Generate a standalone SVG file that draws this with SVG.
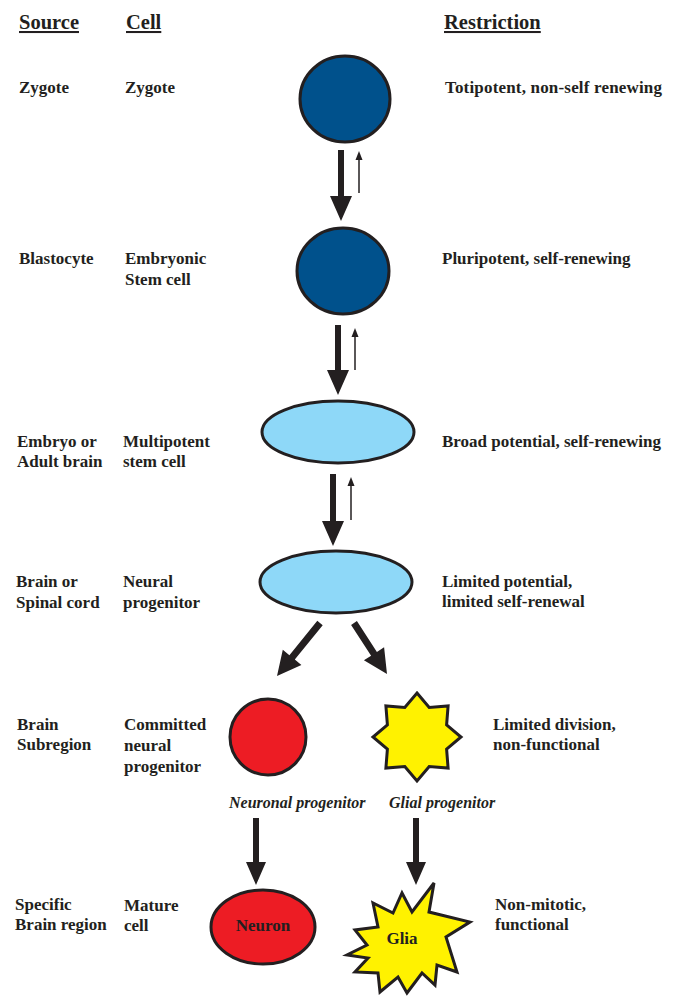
<svg xmlns="http://www.w3.org/2000/svg" width="683" height="996" viewBox="0 0 683 996">
<style>
text{font-family:"Liberation Serif","Times New Roman",serif;font-weight:bold;fill:#231F20;font-size:17px}
.hd{font-size:20.5px;text-decoration:underline}
.it{font-style:italic;font-size:16px}
.cell{stroke:#231F20;stroke-width:3}
.dark{fill:#00518C}
.light{fill:#8ED8F8}
.red{fill:#ED1C24}
.yel{fill:#FFF200}
.arr{fill:#231F20}
.thin{stroke:#231F20;stroke-width:1.5;fill:none}
</style>
<rect width="683" height="996" fill="#fff"/>
<g id="headers">
<text class="hd" x="19" y="29">Source</text>
<text class="hd" x="126" y="29">Cell</text>
<text class="hd" x="444" y="29">Restriction</text>
</g>
<g id="labels">
<text x="19" y="93">Zygote</text>
<text x="125" y="93">Zygote</text>
<text x="445" y="93" textLength="217">Totipotent, non-self renewing</text>
<text x="19" y="264">Blastocyte</text>
<text x="125" y="264">Embryonic</text>
<text x="125" y="285">Stem cell</text>
<text x="442" y="264">Pluripotent, self-renewing</text>
<text x="17" y="447">Embryo or</text>
<text x="17" y="467">Adult brain</text>
<text x="123" y="447">Multipotent</text>
<text x="123" y="467">stem cell</text>
<text x="442" y="447">Broad potential, self-renewing</text>
<text x="16" y="587">Brain or</text>
<text x="16" y="608">Spinal cord</text>
<text x="123" y="587">Neural</text>
<text x="123" y="608">progenitor</text>
<text x="442" y="587">Limited potential,</text>
<text x="442" y="607">limited self-renewal</text>
<text x="17" y="730">Brain</text>
<text x="17" y="750">Subregion</text>
<text x="124" y="730">Committed</text>
<text x="124" y="751">neural</text>
<text x="124" y="772">progenitor</text>
<text x="493" y="730">Limited division,</text>
<text x="493" y="750">non-functional</text>
<text x="15" y="910">Specific</text>
<text x="15" y="930">Brain region</text>
<text x="124" y="911">Mature</text>
<text x="124" y="931">cell</text>
<text x="495" y="910">Non-mitotic,</text>
<text x="495" y="930">functional</text>
<text class="it" x="229" y="808">Neuronal progenitor</text>
<text class="it" x="389" y="808">Glial progenitor</text>
</g>
<g id="zygote"><ellipse class="cell dark" cx="345" cy="99" rx="45" ry="43"/></g>
<g id="esc"><ellipse class="cell dark" cx="343" cy="271" rx="46" ry="43"/></g>
<g id="multipotent"><ellipse class="cell light" cx="338" cy="432" rx="76" ry="31"/></g>
<g id="neural-progenitor"><ellipse class="cell light" cx="336" cy="582" rx="76" ry="31"/></g>
<g id="committed"><circle class="cell red" cx="268" cy="737" r="38"/></g>
<g id="glial-progenitor"><polygon class="cell yel" points="417,693 429.2,707.4 448.1,705.9 446.6,724.8 461,737 446.6,749.2 448.1,768.1 429.2,766.6 417,781 404.8,766.6 385.9,768.1 387.4,749.2 373,737 387.4,724.8 385.9,705.9 404.8,707.4"/></g>
<g id="neuron"><ellipse class="cell red" cx="263" cy="927" rx="52" ry="37"/><text x="263" y="931" text-anchor="middle">Neuron</text></g>
<g id="glia"><polygon class="cell yel" points="402,893 412,912 434,883 429,912 470,922 446,937 457,972 437,965 435,985 422,973 407,993 398,977 380,992 378,973 355,972 368,958 347,955 367,945 355,930 378,927 373,903 393,913"/><text x="402" y="944" text-anchor="middle">Glia</text></g>
<g id="connectors">
<path class="arr" d="M338,150 H344 V196 H352 L341,221 L330,196 H338 Z"/>
<line class="thin" x1="359" y1="193" x2="359" y2="158"/><polygon class="arr" points="355.5,160 362.5,160 359,151"/>
<path class="arr" d="M335,325 H341 V370 H349 L338,395 L327,370 H335 Z"/>
<line class="thin" x1="355" y1="370" x2="355" y2="335"/><polygon class="arr" points="351.5,337 358.5,337 355,328"/>
<path class="arr" d="M330,474 H336 V521 H344 L333,546 L322,521 H330 Z"/>
<line class="thin" x1="351" y1="520" x2="351" y2="484"/><polygon class="arr" points="347.5,486 354.5,486 351,477"/>
<polygon class="arr" points="322.7,625.2 294.8,659.6 301.4,665 277,676 282.8,649.8 289.4,655.2 317.3,620.8"/>
<polygon class="arr" points="356.9,621.1 376.9,651.9 384.1,647.3 387,674 363.9,660.3 371.1,655.7 351.1,624.9"/>
<path class="arr" d="M253,818 H259 V862 H266 L256,885 L246,862 H253 Z"/>
<path class="arr" d="M413,818 H419 V862 H426 L416,885 L406,862 H413 Z"/>
</g>
</svg>
